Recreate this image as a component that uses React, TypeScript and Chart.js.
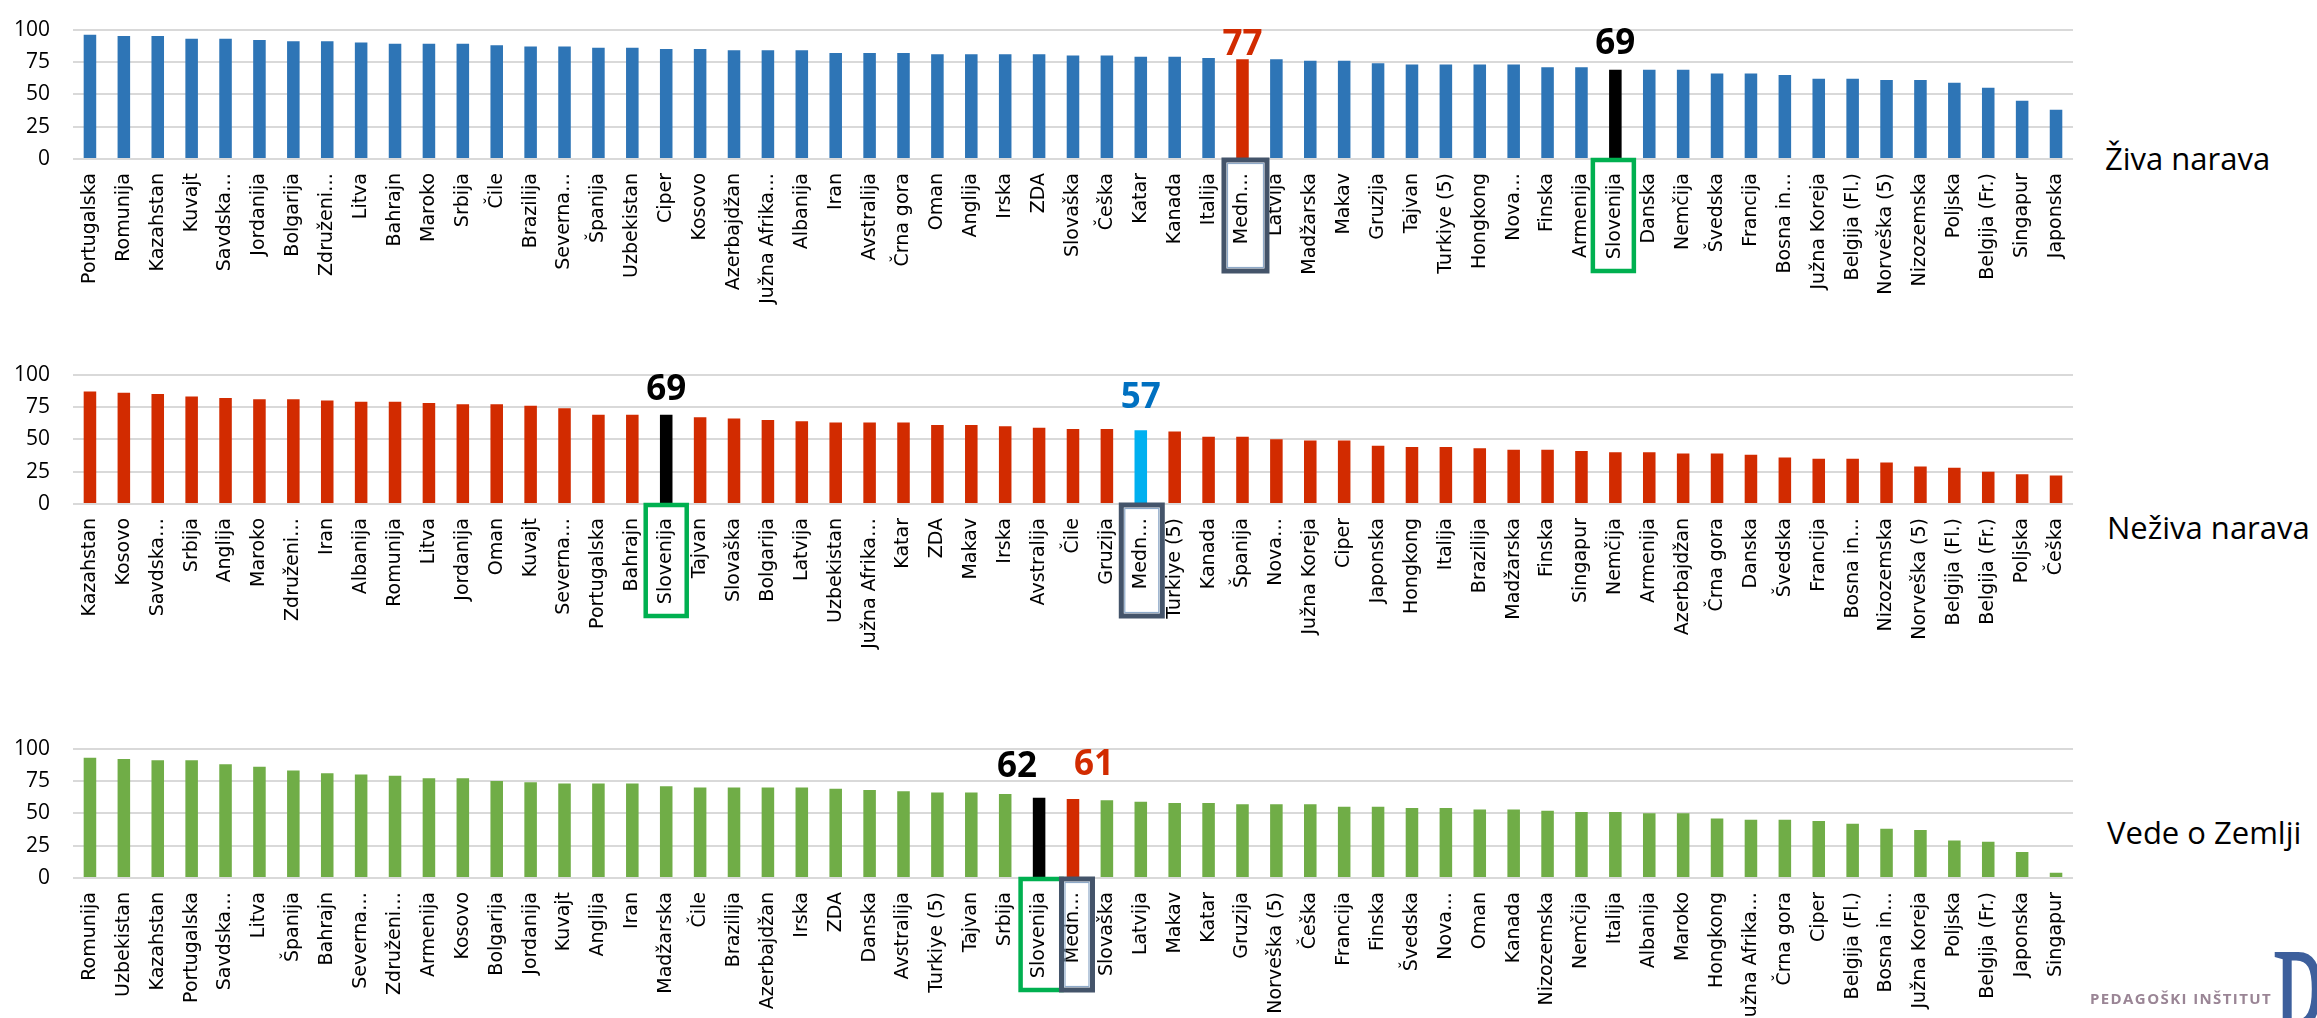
import React, { useEffect, useRef } from 'react';
import { Chart, registerables } from 'chart.js';

Chart.register(...registerables);

// ---------- data ----------
const zivaCategories = ['Portugalska', 'Romunija', 'Kazahstan', 'Kuvajt', 'Savdska…', 'Jordanija', 'Bolgarija', 'Združeni…', 'Litva', 'Bahrajn', 'Maroko', 'Srbija', 'Čile', 'Brazilija', 'Severna…', 'Španija', 'Uzbekistan', 'Ciper', 'Kosovo', 'Azerbajdžan', 'Južna Afrika…', 'Albanija', 'Iran', 'Avstralija', 'Črna gora', 'Oman', 'Anglija', 'Irska', 'ZDA', 'Slovaška', 'Češka', 'Katar', 'Kanada', 'Italija', 'Medn…', 'Latvija', 'Madžarska', 'Makav', 'Gruzija', 'Tajvan', 'Turkiye (5)', 'Hongkong', 'Nova…', 'Finska', 'Armenija', 'Slovenija', 'Danska', 'Nemčija', 'Švedska', 'Francija', 'Bosna in…', 'Južna Koreja', 'Belgija (Fl.)', 'Norveška (5)', 'Nizozemska', 'Poljska', 'Belgija (Fr.)', 'Singapur', 'Japonska'];
const zivaValues = [96, 95, 95, 93, 93, 92, 91, 91, 90, 89, 89, 89, 88, 87, 87, 86, 86, 85, 85, 84, 84, 84, 82, 82, 82, 81, 81, 81, 81, 80, 80, 79, 79, 78, 77, 77, 76, 76, 74, 73, 73, 73, 73, 71, 71, 69, 69, 69, 66, 66, 65, 62, 62, 61, 61, 59, 55, 45, 38];

const nezivaCategories = ['Kazahstan', 'Kosovo', 'Savdska…', 'Srbija', 'Anglija', 'Maroko', 'Združeni…', 'Iran', 'Albanija', 'Romunija', 'Litva', 'Jordanija', 'Oman', 'Kuvajt', 'Severna…', 'Portugalska', 'Bahrajn', 'Slovenija', 'Tajvan', 'Slovaška', 'Bolgarija', 'Latvija', 'Uzbekistan', 'Južna Afrika…', 'Katar', 'ZDA', 'Makav', 'Irska', 'Avstralija', 'Čile', 'Gruzija', 'Medn…', 'Turkiye (5)', 'Kanada', 'Španija', 'Nova…', 'Južna Koreja', 'Ciper', 'Japonska', 'Hongkong', 'Italija', 'Brazilija', 'Madžarska', 'Finska', 'Singapur', 'Nemčija', 'Armenija', 'Azerbajdžan', 'Črna gora', 'Danska', 'Švedska', 'Francija', 'Bosna in…', 'Nizozemska', 'Norveška (5)', 'Belgija (Fl.)', 'Belgija (Fr.)', 'Poljska', 'Češka'];
const nezivaValues = [87, 86, 85, 83, 82, 81, 81, 80, 79, 79, 78, 77, 77, 76, 74, 69, 69, 69, 67, 66, 65, 64, 63, 63, 63, 61, 61, 60, 59, 58, 58, 57, 56, 52, 52, 50, 49, 49, 45, 44, 44, 43, 42, 42, 41, 40, 40, 39, 39, 38, 36, 35, 35, 32, 29, 28, 25, 23, 22];

const zemljaCategories = ['Romunija', 'Uzbekistan', 'Kazahstan', 'Portugalska', 'Savdska…', 'Litva', 'Španija', 'Bahrajn', 'Severna…', 'Združeni…', 'Armenija', 'Kosovo', 'Bolgarija', 'Jordanija', 'Kuvajt', 'Anglija', 'Iran', 'Madžarska', 'Čile', 'Brazilija', 'Azerbajdžan', 'Irska', 'ZDA', 'Danska', 'Avstralija', 'Turkiye (5)', 'Tajvan', 'Srbija', 'Slovenija', 'Medn…', 'Slovaška', 'Latvija', 'Makav', 'Katar', 'Gruzija', 'Norveška (5)', 'Češka', 'Francija', 'Finska', 'Švedska', 'Nova…', 'Oman', 'Kanada', 'Nizozemska', 'Nemčija', 'Italija', 'Albanija', 'Maroko', 'Hongkong', 'Južna Afrika…', 'Črna gora', 'Ciper', 'Belgija (Fl.)', 'Bosna in…', 'Južna Koreja', 'Poljska', 'Belgija (Fr.)', 'Japonska', 'Singapur'];
const zemljaValues = [93, 92, 91, 91, 88, 86, 83, 81, 80, 79, 77, 77, 75, 74, 73, 73, 73, 71, 70, 70, 70, 70, 69, 68, 67, 66, 66, 65, 62, 61, 60, 59, 58, 58, 57, 57, 57, 55, 55, 54, 54, 53, 53, 52, 51, 51, 50, 50, 46, 45, 45, 44, 42, 38, 37, 29, 28, 20, 4];

const yTicks = [0, 25, 50, 75, 100];
const panelTitles = ['Živa narava', 'Neživa narava', 'Vede o Zemlji'];
const logoText = 'PEDAGOŠKI INŠTITUT';

const SLO = 'Slovenija';
const MEDN = 'Medn…';

// ---------- styles ----------
const CANVAS_W = 2093;
const CANVAS_H = 325;
const LABEL_FONT = "'DejaVu Sans', sans-serif";
const CALIBRI_LIKE = "'Open Sans', 'Liberation Sans', sans-serif";

type Panel = {
  categories: string[];
  values: number[];
  title: string;
  color: string;
  mednColor: string;
  mednText: string;
  top: number;
  titleLeft: number;
  titleTop: number;
  slo: { off: number; dx: number; bw: number; bdx: number };
  medn: { off: number; dx: number; bw: number; bdx: number };
};

const panels: Panel[] = [
  {
    categories: zivaCategories, values: zivaValues, title: panelTitles[0],
    color: '#2e75b6', mednColor: '#d22b00', mednText: '#d22b00',
    top: -6, titleLeft: 2105, titleTop: 143,
    slo: { off: 16, dx: 0, bw: 41, bdx: -2 },
    medn: { off: 4, dx: 0, bw: 43, bdx: 3 },
  },
  {
    categories: nezivaCategories, values: nezivaValues, title: panelTitles[1],
    color: '#d22b00', mednColor: '#00b0f0', mednText: '#0070c0',
    top: 339, titleLeft: 2107, titleTop: 512,
    slo: { off: 15, dx: 0, bw: 41, bdx: 0 },
    medn: { off: 22, dx: 0, bw: 41, bdx: 1 },
  },
  {
    categories: zemljaCategories, values: zemljaValues, title: panelTitles[2],
    color: '#70ad47', mednColor: '#d22b00', mednText: '#d22b00',
    top: 713, titleLeft: 2107, titleTop: 817,
    slo: { off: 21, dx: -22, bw: 41, bdx: 2 },
    medn: { off: 24, dx: 21, bw: 31, bdx: 4 },
  },
];

function BarPanel({ cfg }: { cfg: Panel }) {
  const ref = useRef<HTMLCanvasElement>(null);

  useEffect(() => {
    const canvas = ref.current;
    if (!canvas) return;
    const sloIdx = cfg.categories.indexOf(SLO);
    const mednIdx = cfg.categories.indexOf(MEDN);

    const annot = {
      id: 'annot',
      afterDraw(chart: any) {
        const { ctx, chartArea } = chart;
        const xs = chart.scales.x;
        const ys = chart.scales.y;
        ctx.save();
        // highlight boxes around labels
        const boxH = 111;
        const sx = xs.getPixelForValue(sloIdx) + cfg.slo.bdx;
        ctx.lineWidth = 4.5;
        ctx.strokeStyle = '#00b050';
        ctx.strokeRect(sx - cfg.slo.bw / 2, chartArea.bottom + 1, cfg.slo.bw, boxH);
        const mx = xs.getPixelForValue(mednIdx) + cfg.medn.bdx;
        ctx.lineWidth = 5;
        ctx.strokeStyle = '#44546a';
        ctx.strokeRect(mx - cfg.medn.bw / 2, chartArea.bottom + 1, cfg.medn.bw, boxH);
        ctx.lineWidth = 1.2;
        ctx.strokeStyle = '#8ea9c8';
        ctx.strokeRect(mx - cfg.medn.bw / 2 + 3.5, chartArea.bottom + 4.5, cfg.medn.bw - 7, boxH - 7);

        // value labels
        ctx.font = `bold 35px ${CALIBRI_LIKE}`;
        ctx.textAlign = 'center';
        ctx.textBaseline = 'alphabetic';
        const sv = cfg.values[sloIdx];
        ctx.fillStyle = '#000000';
        ctx.fillText(String(Math.round(sv)), xs.getPixelForValue(sloIdx) + cfg.slo.dx, ys.getPixelForValue(sv) - cfg.slo.off);
        const mv = cfg.values[mednIdx];
        ctx.fillStyle = cfg.mednText;
        ctx.fillText(String(Math.round(mv)), xs.getPixelForValue(mednIdx) + cfg.medn.dx, ys.getPixelForValue(mv) - cfg.medn.off);
        ctx.restore();
      },
    };

    const chart = new Chart(canvas, {
      type: 'bar',
      data: {
        labels: cfg.categories,
        datasets: [
          {
            data: cfg.values,
            backgroundColor: cfg.categories.map((c) => (c === SLO ? '#000000' : c === MEDN ? cfg.mednColor : cfg.color)),
            barPercentage: 0.37,
            categoryPercentage: 1,
          },
        ],
      },
      options: {
        responsive: false,
        animation: false,
        devicePixelRatio: 1,
        layout: { padding: { top: 20, right: 20, bottom: 0, left: 0 } },
        plugins: { legend: { display: false }, tooltip: { enabled: false } },
        scales: {
          x: {
            grid: { display: false, drawTicks: false },
            border: { display: false },
            ticks: {
              autoSkip: false,
              minRotation: 90,
              maxRotation: 90,
              padding: 14,
              color: '#000000',
              font: { family: LABEL_FONT, size: 19 },
            },
            afterFit: (s: any) => {
              s.height = 160;
            },
          },
          y: {
            min: 0,
            max: 100,
            afterBuildTicks: (s: any) => {
              s.ticks = yTicks.map((v) => ({ value: v }));
            },
            grid: { color: '#d9d9d9', lineWidth: 2, drawTicks: false },
            border: { display: false },
            ticks: {
              padding: 23,
              color: '#000000',
              font: { family: CALIBRI_LIKE, size: 21 },
            },
            afterFit: (s: any) => {
              s.width = 73;
            },
          },
        },
      },
      plugins: [annot],
    } as any);

    return () => chart.destroy();
  }, [cfg]);

  return (
    <canvas
      ref={ref}
      width={CANVAS_W}
      height={CANVAS_H}
      style={{ position: 'absolute', left: 0, top: cfg.top, width: CANVAS_W, height: CANVAS_H }}
    />
  );
}

export default function App() {
  return (
    <div
      style={{
        position: 'absolute',
        left: 0,
        top: 0,
        width: 2317,
        height: 1018,
        overflow: 'hidden',
        background: '#ffffff',
      }}
    >
      {panels.map((p, i) => (
        <BarPanel key={i} cfg={p} />
      ))}
      {panels.map((p, i) => (
        <div
          key={'t' + i}
          style={{
            position: 'absolute',
            left: p.titleLeft,
            top: p.titleTop,
            fontFamily: CALIBRI_LIKE,
            fontSize: 31,
            lineHeight: '31px',
            color: '#000000',
            whiteSpace: 'nowrap',
          }}
        >
          {p.title}
        </div>
      ))}
      <div
        style={{
          position: 'absolute',
          left: 2090,
          top: 991,
          fontFamily: CALIBRI_LIKE,
          fontWeight: 700,
          fontSize: 15,
          lineHeight: '15px',
          letterSpacing: '1.4px',
          color: '#9a8595',
          whiteSpace: 'nowrap',
        }}
      >
        {logoText}
      </div>
      <div
        style={{
          position: 'absolute',
          left: 2272,
          top: 918,
          fontFamily: "'Liberation Serif', 'DejaVu Serif', serif",
          fontSize: 190,
          lineHeight: '190px',
          color: '#3d5f9c',
          whiteSpace: 'nowrap',
          transform: 'scaleX(0.5)',
          transformOrigin: 'left top',
        }}
      >
        P
      </div>
    </div>
  );
}
